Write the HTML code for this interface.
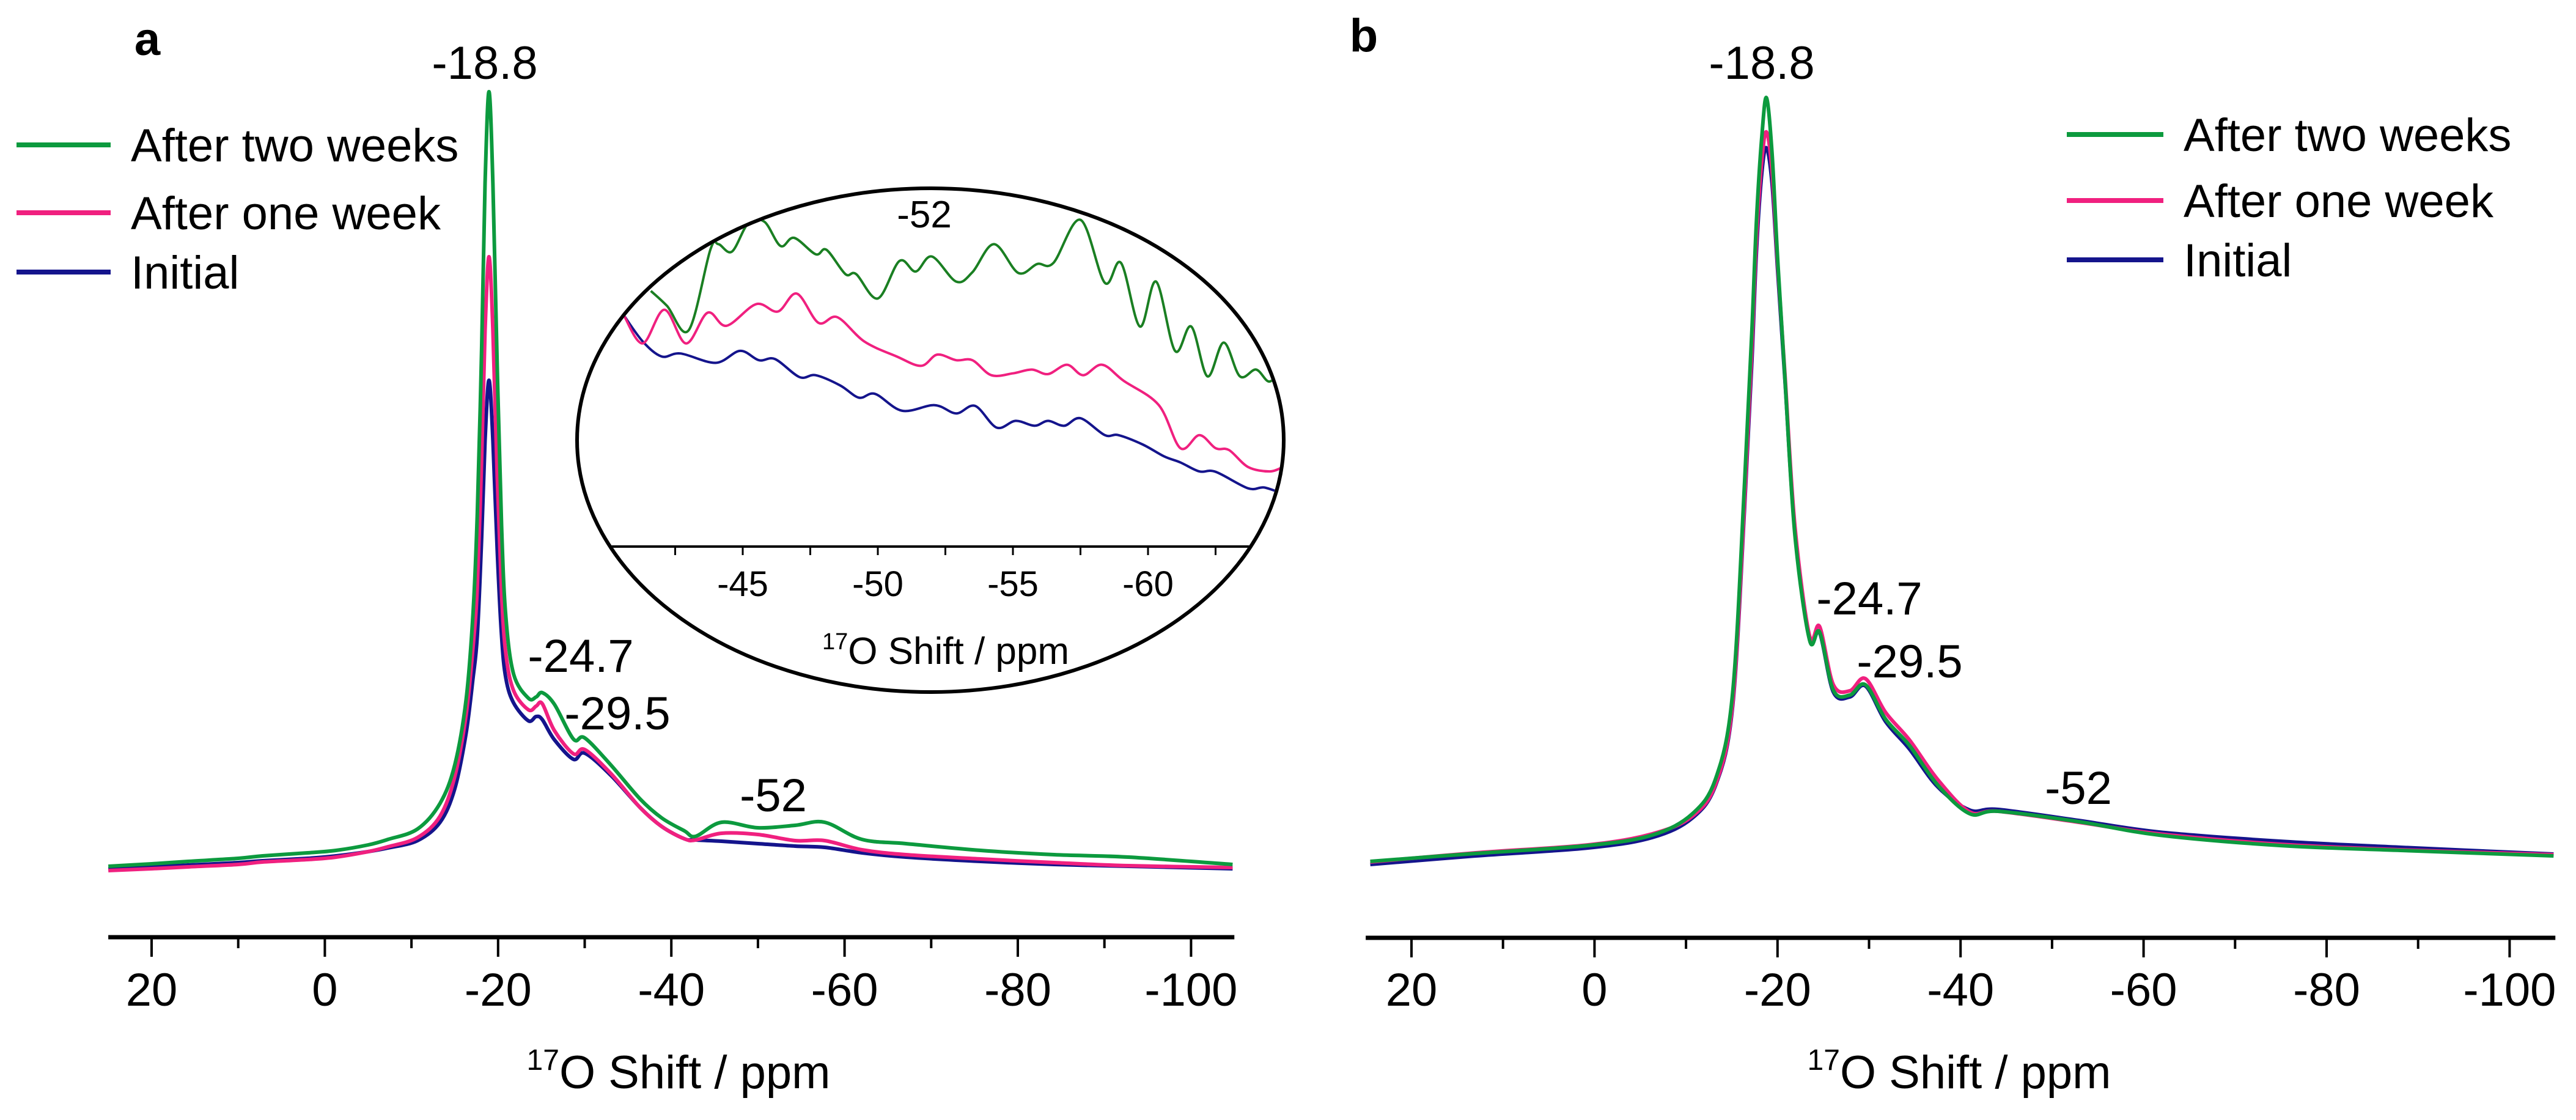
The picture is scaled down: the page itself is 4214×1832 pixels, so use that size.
<!DOCTYPE html>
<html><head><meta charset="utf-8"><style>
html,body{margin:0;padding:0;background:#fff}
svg{display:block}
text{font-family:"Liberation Sans",Arial,sans-serif;fill:#000}
</style></head><body>
<svg id="fig" width="4214" height="1832" viewBox="0 0 4214 1832" xmlns="http://www.w3.org/2000/svg">
<defs>
<clipPath id="insetClip"><ellipse cx="1522" cy="720" rx="575" ry="409"/></clipPath>
</defs>
<g id="panelA"></g>
<g id="panelB"></g>
<g id="inset"></g>
</svg>
<script>
// ---------- Panel a data ----------
const ppmA = [25,20,15.8,10,7.2,2,-1.3,-5,-7.3,-10.7,-13.3,-15,-16.3,-17.1,-17.6,-18.1,-18.5,-18.95,-19.4,-19.9,-20.4,-20.9,-21.8,-23.5,-24.4,-25.1,-26.5,-28.7,-30,-33,-36.4,-38.9,-41.5,-42.8,-45.8,-50,-54.3,-57.7,-62,-67.1,-75.7,-84.2,-92.8,-104.8];
const greenA = [0.3,0.7,1.1,1.6,2.0,2.5,2.9,3.8,4.7,6.4,10.6,16.9,27.5,41.5,58,85,112,127,112,82,56,41,31.7,27.8,28,28.7,26.8,21.1,21.3,16.9,11.3,8.2,6.1,5.2,7.5,6.6,7.0,7.5,4.7,4.0,2.9,2.2,1.8,0.6];
const pinkA = [-0.4,-0.1,0.2,0.6,1.0,1.4,1.8,2.7,3.5,5.0,8.5,15,25,36,46,67,88,100,88,64,45,35,29,25.9,26.5,26.9,22.5,18.7,19.4,15.5,9.9,6.8,4.8,4.6,5.7,5.5,4.5,4.5,3.0,2.2,1.5,0.9,0.4,0.1];
const blueA = [-0.1,0.2,0.5,0.9,1.2,1.6,2.0,2.7,3.3,4.5,7.5,13,22,31,38,54,70,79.8,70,52,38,31,27,24.1,24.8,24.3,21,17.8,18.8,15.2,9.9,6.8,4.8,4.6,4.4,4.0,3.6,3.4,2.5,1.8,1.1,0.6,0.3,-0.1];
// ---------- Panel b data ----------
const ppmB = [24.5,13,0.7,-6.3,-10.7,-13.3,-15.1,-16.4,-17.2,-17.7,-18.3,-18.8,-19.4,-20.0,-20.8,-21.9,-23.5,-24.6,-26.1,-27.9,-29.6,-31.8,-34.4,-37.5,-41,-44.1,-52.9,-61.7,-74.9,-88.1,-104.8];
const greenB = [1.1,2.4,3.7,5.4,8.9,14.9,28.7,63.1,88,106,120,126,117,100,80.3,54.5,37.3,38.6,29.1,28.3,30,24.4,20.1,13.6,8.9,9.3,7.6,5.4,3.7,2.9,2.0];
const pinkB = [1.0,2.5,3.8,5.6,8.5,14.0,27,60,85,103,116,120.4,114,99,81,56,38,39.5,30,29,31,25.5,21,14.5,9.2,9.3,7.5,5.6,3.9,3.0,2.2];
const blueB = [0.6,2.0,3.3,5.0,8.2,13.8,26.5,59,83,101,114,117.8,112,98,80,55,37.5,38.5,28.8,28,29.8,24,19.5,13.3,9.5,9.6,7.8,5.9,4.4,3.4,2.3];
// ---------- Inset data ----------
const insetGreenPpm = [-41.6,-42.2,-43.0,-43.8,-44.1,-44.6,-45.2,-45.8,-46.4,-46.9,-47.7,-48.1,-48.8,-49.2,-50.0,-50.8,-51.4,-52.0,-52.9,-53.5,-54.3,-55.2,-55.9,-56.5,-57.5,-58.4,-59.0,-59.7,-60.3,-61.0,-61.6,-62.2,-62.8,-63.4,-64.0,-64.5,-65.0];
const insetGreen = [68.3,64.3,57.8,79.3,80.8,78.8,86.3,86.8,80.3,82.5,78.1,79.3,72.8,72.8,66.3,76.3,73.5,77.5,70.8,73.3,80.8,73.1,75.5,75.8,87.3,70.5,75.8,58.8,70.8,52.3,58.8,45.5,54.5,45.5,47.3,44.1,48.1];
const insetPinkPpm = [-40.6,-41.3,-42.1,-42.9,-43.7,-44.4,-45.5,-46.3,-47.0,-47.8,-48.5,-49.5,-50.7,-51.6,-52.2,-52.9,-53.5,-54.2,-55.0,-55.7,-56.3,-57.0,-57.6,-58.3,-59.1,-60.4,-61.2,-61.9,-62.5,-63.0,-63.7,-64.5,-65.0];
const insetPink = [61.8,54.3,63.3,54.3,62.5,59.0,64.8,62.8,67.6,59.8,61.3,54.8,50.8,48.3,51.3,49.8,49.8,45.8,46.3,47.3,46.1,48.6,45.8,48.6,44.3,37.8,26.3,29.8,26.3,25.8,21.3,20.1,21.3];
const insetBluePpm = [-40.6,-41.3,-42.0,-42.7,-44.0,-44.9,-45.6,-46.2,-47.1,-47.7,-48.6,-49.3,-49.9,-50.9,-52.1,-52.9,-53.6,-54.4,-55.1,-55.8,-56.3,-56.9,-57.5,-58.4,-58.9,-59.8,-60.6,-61.2,-61.9,-62.5,-63.7,-64.3,-65.0];
const insetBlue = [61.8,54.8,50.8,51.6,49.1,52.3,49.8,50.1,45.3,45.8,43.1,39.8,40.8,36.3,37.8,35.6,37.6,31.8,33.6,32.3,33.6,32.3,34.3,29.8,29.8,27.3,24.1,22.5,20.1,20.0,15.6,15.8,14.1];
const xTicks = [20,0,-20,-40,-60,-80,-100];
const insetTicks = [-45,-50,-55,-60];
const seriesNames = ["After two weeks","After one week","Initial"];

const NS = "http://www.w3.org/2000/svg";
const COL = {green:"#0c9a3e", pink:"#f0207f", blue:"#14148c", greenInset:"#1a7f22"};

function mk(tag, attrs, parent){
  const e = document.createElementNS(NS, tag);
  for (const k in attrs) e.setAttribute(k, attrs[k]);
  parent.appendChild(e);
  return e;
}
function smoothPath(pts){
  let d = "M" + pts[0][0].toFixed(1) + "," + pts[0][1].toFixed(1);
  for (let i = 0; i < pts.length - 1; i++){
    const p0 = pts[Math.max(0,i-1)], p1 = pts[i], p2 = pts[i+1], p3 = pts[Math.min(pts.length-1,i+2)];
    const c1x = p1[0] + (p2[0]-p0[0])/6, c1y = p1[1] + (p2[1]-p0[1])/6;
    const c2x = p2[0] - (p3[0]-p1[0])/6, c2y = p2[1] - (p3[1]-p1[1])/6;
    d += " C" + c1x.toFixed(1)+","+c1y.toFixed(1)+" "+c2x.toFixed(1)+","+c2y.toFixed(1)+" "+p2[0].toFixed(1)+","+p2[1].toFixed(1);
  }
  return d;
}

function drawPanel(g, cfg){
  const xs = p => cfg.x20 + (20 - p) * cfg.pxPerPpm;
  const ys = v => 1420 - v * 10;
  const ax = mk("line", {x1: xs(25), x2: xs(-105), y1: cfg.axisY, y2: cfg.axisY, stroke:"#000","stroke-width":7}, g);
  
  
  for (let p = 20; p >= -100; p -= 10){
    const major = p % 20 === 0;
    const t = mk("line", {x1: xs(p), x2: xs(p), y1: cfg.axisY, y2: cfg.axisY + (major ? 32 : 18), stroke:"#000","stroke-width":4}, g);
    
    
  }
  xTicks.forEach(p => {
    const tl = mk("text", {x: xs(p), y: 1645, "font-size": 76, "text-anchor":"middle"}, g);
    tl.textContent = String(p);
    
    
  });
  const tt = mk("text", {x: cfg.titleX, y: 1780, "font-size": 76, "text-anchor":"middle"}, g);
  
  
  const sup = mk("tspan", {"font-size": 48, dy: -30}, tt); sup.textContent = "17";
  const rest = mk("tspan", {dy: 30}, tt); rest.textContent = "O Shift / ppm";
  const sets = [[cfg.blue, COL.blue, 'series-initial'], [cfg.pink, COL.pink, 'series-after-one-week'], [cfg.green, COL.green, 'series-after-two-weeks']];
  sets.forEach(s => {
    const pts = cfg.ppm.map((p, i) => [xs(p), ys(s[0][i])]);
    const path = mk("path", {d: smoothPath(pts), fill:"none", stroke: s[1], "stroke-width": 6, "stroke-linejoin":"round"}, g);
    
    
  });
  const lc = [COL.green, COL.pink, COL.blue];
  seriesNames.forEach((n, i) => {
    const y = cfg.legY[i];
    const l = mk("line", {x1: cfg.legX1, x2: cfg.legX2, y1: y, y2: y, stroke: lc[i], "stroke-width": 8}, g);
    
    
    const t = mk("text", {x: cfg.legTX, y: y + 27, "font-size": 76}, g);
    t.textContent = n;
    
    
  });
  cfg.ann.forEach(a => {
    const t = mk("text", {x: a[1], y: a[2] + 27, "font-size": 76, "text-anchor":"middle"}, g);
    t.textContent = a[0];
    
    
  });
  const pl = mk("text", {x: cfg.letter[0], y: cfg.letter[1] + 26, "font-size": 76, "font-weight":"bold", "text-anchor":"middle"}, g);
  pl.textContent = cfg.letterText;
  
  
}

drawPanel(document.getElementById("panelA"), {
  x20: 248, pxPerPpm: 14.17, axisY: 1533, titleX: 1110,
  ppm: ppmA, green: greenA, pink: pinkA, blue: blueA,
  legX1: 27, legX2: 181, legTX: 214, legY: [237, 348, 445],
  ann: [["-18.8", 793, 102], ["-24.7", 950, 1072], ["-29.5", 1010, 1166], ["-52", 1265, 1300]],
  letter: [241, 64], letterText: "a"
});
drawPanel(document.getElementById("panelB"), {
  x20: 2309, pxPerPpm: 14.97, axisY: 1534, titleX: 3205,
  ppm: ppmB, green: greenB, pink: pinkB, blue: blueB,
  legX1: 3381, legX2: 3539, legTX: 3572, legY: [220, 328, 425],
  ann: [["-18.8", 2882, 102], ["-24.7", 3058, 978], ["-29.5", 3124, 1081], ["-52", 3400, 1288]],
  letter: [2231, 58], letterText: "b"
});

(function(){
  const g = document.getElementById("inset");
  const xs = p => 1436 + (-50 - p) * 44.2;
  const ys = v => 894.2 - v * 6.124;
  const bg = mk("ellipse", {cx:1522, cy:720, rx:578, ry:412, fill:"#fff", stroke:"#000", "stroke-width":6}, g);
  
  
  const cg = mk("g", {"clip-path":"url(#insetClip)"}, g);
  const ax = mk("line", {x1: 1000, x2: 2090, y1: 894, y2: 894, stroke:"#000", "stroke-width":4}, cg);
  
  
  for (let p = -42.5; p >= -65; p -= 2.5){
    const t = mk("line", {x1: xs(p), x2: xs(p), y1: 894, y2: 908, stroke:"#000", "stroke-width":3}, cg);
    
    
  }
  insetTicks.forEach(p => {
    const t = mk("text", {x: xs(p), y: 975, "font-size": 58, "text-anchor":"middle"}, g);
    t.textContent = String(p);
    
    
  });
  const tt = mk("text", {x: 1547, y: 1086, "font-size": 62, "text-anchor":"middle"}, g);
  
  
  const s1 = mk("tspan", {"font-size": 38, dy: -24}, tt); s1.textContent = "17";
  const s2 = mk("tspan", {dy: 24}, tt); s2.textContent = "O Shift / ppm";
  const lab = mk("text", {x: 1512, y: 372, "font-size": 62, "text-anchor":"middle"}, g);
  lab.textContent = "-52";
  
  
  [[insetBluePpm, insetBlue, COL.blue, 'inset-series-initial'],
   [insetPinkPpm, insetPink, COL.pink, 'inset-series-after-one-week'],
   [insetGreenPpm, insetGreen, COL.greenInset, 'inset-series-after-two-weeks']].forEach(s => {
    const pts = s[0].map((p, i) => [xs(p), ys(s[1][i])]);
    const path = mk("path", {d: smoothPath(pts), fill:"none", stroke: s[2], "stroke-width": 4}, cg);
    
    
  });
})();
</script>
</body></html>
